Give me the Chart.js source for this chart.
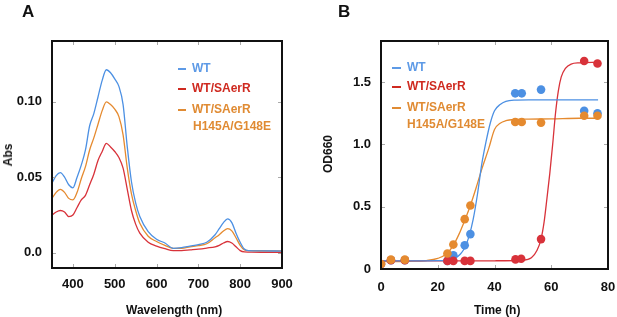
<!DOCTYPE html>
<html>
<head>
<meta charset="utf-8">
<script src="https://cdn.jsdelivr.net/npm/chart.js@4.4.1/dist/chart.umd.min.js"></script>
<style>
  body { margin: 0; background: #fff; }
  #marco { position: relative; width: 617px; height: 317px; overflow: hidden;
    font-family: "Liberation Sans", Arial, sans-serif; font-weight: bold; color: #111; }
  canvas { position: absolute; top: 0; }
  .txt { position: absolute; white-space: nowrap; font-size: 12px; line-height: 12px; }
  .letra { position: absolute; font-size: 17px; line-height: 17px; }
  .guion { display: inline-block; width: 9px; height: 2px; vertical-align: middle; margin-right: 6px; }
  .rot { position: absolute; font-size: 12px; line-height: 14px; transform: translate(-50%, -50%) rotate(-90deg); white-space: nowrap; }
</style>
</head>
<body>
<div id="marco">
  <canvas id="graficoA" width="300" height="317" style="left:0"></canvas>
  <canvas id="graficoB" width="307" height="317" style="left:310px"></canvas>

  <div class="letra" style="left:22px;top:3px">A</div>
  <div class="letra" style="left:338px;top:3px">B</div>

  <!-- leyenda A -->
  <div class="txt" style="left:178px;top:62px;color:#5d9ae6"><span class="guion" style="background:#5d9ae6;width:8px"></span>WT</div>
  <div class="txt" style="left:178px;top:82px;color:#cf2a20"><span class="guion" style="background:#cf2a20;width:8px"></span>WT/SAerR</div>
  <div class="txt" style="left:178px;top:103px;color:#e08b33"><span class="guion" style="background:#e08b33;width:8px"></span>WT/SAerR</div>
  <div class="txt" style="left:193px;top:120px;color:#e08b33">H145A/G148E</div>

  <!-- leyenda B -->
  <div class="txt" style="left:392px;top:61px;color:#5d9ae6"><span class="guion" style="background:#5d9ae6"></span>WT</div>
  <div class="txt" style="left:392px;top:80px;color:#cf2a20"><span class="guion" style="background:#cf2a20"></span>WT/SAerR</div>
  <div class="txt" style="left:392px;top:101px;color:#e08b33"><span class="guion" style="background:#e08b33"></span>WT/SAerR</div>
  <div class="txt" style="left:407px;top:118px;color:#e08b33">H145A/G148E</div>

  <!-- titulos de ejes -->
  <div class="rot" style="left:8px;top:155px">Abs</div>
  <div class="txt" style="left:126px;top:304px">Wavelength (nm)</div>
  <div class="rot" style="left:328px;top:154px">OD660</div>
  <div class="txt" style="left:474px;top:304px">Time (h)</div>
</div>

<script>
// Panel A: espectros de absorción
const longitudes = [350, 360, 370, 380, 390, 400, 410, 420, 430, 440, 450, 460, 470, 480, 490, 500, 510, 520, 530, 540, 550, 560, 580, 600, 620, 640, 660, 680, 700, 720, 740, 750, 760, 770, 780, 790, 800, 810, 820, 850, 900];
const absWT = [0.046, 0.051, 0.053, 0.050, 0.045, 0.043, 0.050, 0.058, 0.068, 0.084, 0.092, 0.103, 0.114, 0.121, 0.119, 0.115, 0.110, 0.098, 0.070, 0.047, 0.033, 0.024, 0.014, 0.009, 0.0065, 0.003, 0.0035, 0.0045, 0.0055, 0.007, 0.012, 0.016, 0.020, 0.0225, 0.020, 0.013, 0.007, 0.0025, 0.0015, 0.0013, 0.0012];
const absSAerR = [0.025, 0.027, 0.028, 0.027, 0.024, 0.025, 0.030, 0.035, 0.038, 0.045, 0.052, 0.061, 0.067, 0.0724, 0.070, 0.067, 0.063, 0.056, 0.042, 0.028, 0.019, 0.013, 0.007, 0.0045, 0.0028, 0.0015, 0.0015, 0.002, 0.0025, 0.0032, 0.004, 0.005, 0.0065, 0.0075, 0.0065, 0.004, 0.0015, 0.0006, 0.0005, 0.0004, 0.0004];
const absMutante = [0.036, 0.040, 0.042, 0.040, 0.036, 0.035, 0.040, 0.049, 0.057, 0.068, 0.076, 0.085, 0.094, 0.0998, 0.098, 0.095, 0.090, 0.078, 0.056, 0.039, 0.028, 0.0195, 0.011, 0.0075, 0.005, 0.003, 0.003, 0.004, 0.0048, 0.006, 0.010, 0.012, 0.0145, 0.016, 0.0145, 0.010, 0.005, 0.002, 0.0015, 0.0014, 0.0013];
const ticksLongitud = [400, 500, 600, 700, 800, 900];
const ticksAbs = [0, 0.05, 0.10];

// Panel B: curvas de crecimiento (puntos medidos)
const tiemposWT = [0, 3.5, 8.4, 23.4, 25.5, 29.5, 31.5, 47.3, 49.6, 56.4, 71.6, 76.3];
const odWT = [0.04, 0.07, 0.07, 0.065, 0.11, 0.19, 0.28, 1.41, 1.41, 1.44, 1.27, 1.25];
const tiemposSAerR = [0, 3.5, 8.4, 23.4, 25.5, 29.5, 31.5, 47.4, 49.4, 56.4, 71.6, 76.3];
const odSAerR = [0.04, 0.07, 0.07, 0.065, 0.065, 0.065, 0.065, 0.077, 0.082, 0.24, 1.67, 1.65];
const tiemposMutante = [0, 3.5, 8.4, 23.4, 25.5, 29.5, 31.5, 47.3, 49.6, 56.4, 71.6, 76.3];
const odMutante = [0.04, 0.075, 0.075, 0.125, 0.196, 0.40, 0.51, 1.18, 1.18, 1.175, 1.23, 1.23];

// Panel B: curvas ajustadas
const ajusteTWT = [0, 10, 20, 24, 26, 28, 29.5, 31, 32.5, 34, 35.5, 37, 38.5, 40, 42, 44, 47, 52, 60, 70, 76.5];
const ajusteWT = [0.065, 0.065, 0.067, 0.072, 0.085, 0.12, 0.17, 0.26, 0.40, 0.60, 0.84, 1.02, 1.17, 1.27, 1.32, 1.345, 1.355, 1.357, 1.357, 1.357, 1.357];
const ajusteTSAerR = [0, 20, 40, 50, 53, 55, 56.4, 57.5, 58.5, 59.5, 60.5, 61.5, 62.5, 63.5, 65, 67, 70, 76.5];
const ajusteSAerR = [0.065, 0.065, 0.066, 0.07, 0.09, 0.15, 0.24, 0.38, 0.57, 0.77, 1.00, 1.25, 1.43, 1.54, 1.61, 1.645, 1.655, 1.66];
const ajusteTMutante = [0, 10, 16, 20, 23, 25.5, 27.5, 29.5, 31.5, 33.5, 35.5, 38, 40, 42, 44, 47, 52, 60, 70, 76.5];
const ajusteMutante = [0.06, 0.062, 0.068, 0.085, 0.12, 0.19, 0.28, 0.39, 0.51, 0.65, 0.80, 0.97, 1.12, 1.17, 1.19, 1.20, 1.203, 1.205, 1.21, 1.21];
const ticksTiempo = [0, 20, 40, 60, 80];
const ticksOD = [0, 0.5, 1.0, 1.5];

const AZUL = '#4c90e3';
const ROJO = '#d8323a';
const NARANJA = '#e58a2f';

const aPuntos = (xs, ys) => xs.map((x, i) => ({ x: x, y: ys[i] }));

// Marco negro y marcas de escala hacia adentro
const marcoPlugin = {
  id: 'marco',
  afterDraw(chart) {
    const { ctx, chartArea: a, scales } = chart;
    ctx.save();
    ctx.strokeStyle = '#aaa';
    ctx.lineWidth = 1;
    scales.x.ticks.forEach((t) => {
      const px = Math.round(scales.x.getPixelForValue(t.value)) + 0.5;
      ctx.beginPath();
      ctx.moveTo(px, a.bottom); ctx.lineTo(px, a.bottom - 4);
      ctx.moveTo(px, a.top); ctx.lineTo(px, a.top + 4);
      ctx.stroke();
    });
    scales.y.ticks.forEach((t) => {
      const py = Math.round(scales.y.getPixelForValue(t.value)) + 0.5;
      ctx.beginPath();
      ctx.moveTo(a.left, py); ctx.lineTo(a.left + 4, py);
      ctx.moveTo(a.right, py); ctx.lineTo(a.right - 4, py);
      ctx.stroke();
    });
    ctx.strokeStyle = '#111';
    ctx.lineWidth = 2;
    ctx.strokeRect(a.left, a.top, a.right - a.left, a.bottom - a.top);
    ctx.restore();
  },
};

const fuenteTicks = { family: '"Liberation Sans", Arial, sans-serif', weight: 'bold', size: 13 };

function ejeX(min, max, lista, alto, pad) {
  return {
    type: 'linear', min: min, max: max,
    grid: { display: false, drawTicks: false }, border: { display: false },
    afterBuildTicks: (s) => { s.ticks = lista.map((v) => ({ value: v })); },
    afterFit: (s) => { s.height = alto; s.paddingLeft = 0; s.paddingRight = 0; },
    ticks: { color: '#111', font: fuenteTicks, padding: pad, maxRotation: 0 },
  };
}

function ejeY(min, max, lista, ancho, formato) {
  return {
    type: 'linear', min: min, max: max,
    grid: { display: false, drawTicks: false }, border: { display: false },
    afterBuildTicks: (s) => { s.ticks = lista.map((v) => ({ value: v })); },
    afterFit: (s) => { s.width = ancho; s.paddingTop = 0; s.paddingBottom = 0; },
    ticks: { color: '#111', font: fuenteTicks, padding: 10, callback: formato },
  };
}

const opcionesBase = {
  responsive: false,
  animation: false,
  devicePixelRatio: 1,
  plugins: { legend: { display: false }, tooltip: { enabled: false } },
};

new Chart(document.getElementById('graficoA'), {
  type: 'line',
  data: {
    datasets: [
      { data: aPuntos(longitudes, absWT), borderColor: AZUL, borderWidth: 1.3, pointRadius: 0, cubicInterpolationMode: 'monotone' },
      { data: aPuntos(longitudes, absMutante), borderColor: NARANJA, borderWidth: 1.3, pointRadius: 0, cubicInterpolationMode: 'monotone' },
      { data: aPuntos(longitudes, absSAerR), borderColor: ROJO, borderWidth: 1.3, pointRadius: 0, cubicInterpolationMode: 'monotone' },
    ],
  },
  options: {
    ...opcionesBase,
    layout: { padding: { top: 41, right: 18, left: 0, bottom: 0 } },
    scales: {
      x: ejeX(350, 900, ticksLongitud, 49, 9),
      y: ejeY(-0.01, 0.14, ticksAbs, 52, (v) => (v === 0 ? '0.0' : v.toFixed(2))),
    },
  },
  plugins: [marcoPlugin],
});

new Chart(document.getElementById('graficoB'), {
  type: 'scatter',
  data: {
    datasets: [
      { data: aPuntos(tiemposMutante, odMutante), backgroundColor: NARANJA, pointRadius: 4.3, borderWidth: 0, order: 1 },
      { data: aPuntos(tiemposSAerR, odSAerR), backgroundColor: ROJO, pointRadius: 4.3, borderWidth: 0, order: 2 },
      { data: aPuntos(tiemposWT, odWT), backgroundColor: AZUL, pointRadius: 4.3, borderWidth: 0, order: 3 },
      { type: 'line', data: aPuntos(ajusteTWT, ajusteWT), borderColor: AZUL, borderWidth: 1.3, pointRadius: 0, cubicInterpolationMode: 'monotone', order: 4 },
      { type: 'line', data: aPuntos(ajusteTSAerR, ajusteSAerR), borderColor: ROJO, borderWidth: 1.3, pointRadius: 0, cubicInterpolationMode: 'monotone', order: 5 },
      { type: 'line', data: aPuntos(ajusteTMutante, ajusteMutante), borderColor: NARANJA, borderWidth: 1.3, pointRadius: 0, cubicInterpolationMode: 'monotone', order: 6 },
    ],
  },
  options: {
    ...opcionesBase,
    layout: { padding: { top: 41, right: 9, left: 0, bottom: 0 } },
    scales: {
      x: ejeX(0, 80, ticksTiempo, 48, 11),
      y: ejeY(0, 1.83, ticksOD, 71, (v) => (v === 0 ? '0' : v.toFixed(1))),
    },
  },
  plugins: [marcoPlugin],
});
</script>
</body>
</html>
